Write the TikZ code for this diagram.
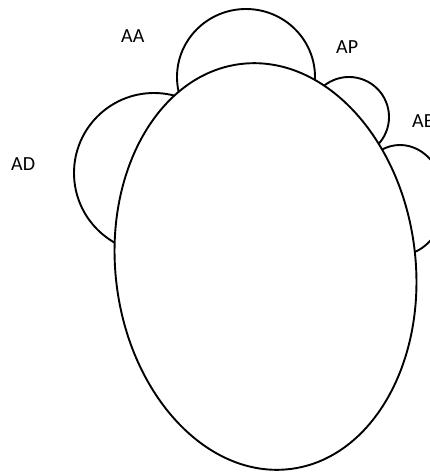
\documentclass[tikz,border=0pt]{standalone}
\usepackage{fontspec}
\setmainfont{Carlito}
\usepackage{tikz}
\usetikzlibrary{positioning}

\begin{document}
\begin{tikzpicture}[
  x=1pt, y=-1pt,
  outline/.style={draw, line width=1.9pt, fill=white},
  lbl/.style={font=\fontsize{20}{22}\selectfont, inner sep=0pt, anchor=base west}
]
\clip (0,0) rectangle (430,473);
% lobes behind the main body
\draw[outline] (246,77) ellipse [x radius=69, y radius=68];
\draw[outline] (349,117) circle [radius=40];
\draw[outline] (400,200) ellipse [x radius=45, y radius=55];
\draw[outline] (154,173) circle [radius=80];
% main body
\draw[outline, rotate around={7:(265.5,266.5)}] (265.5,266.5) ellipse [x radius=150, y radius=204];

\node[lbl] (aa) at (121,43) {AA};
\node[lbl] (ap) at (336,54) {AP};
\node[lbl] (ab) at (412,128) {AB};
\node[lbl] (ad) at (11,170) {AD};
\end{tikzpicture}
\end{document}
